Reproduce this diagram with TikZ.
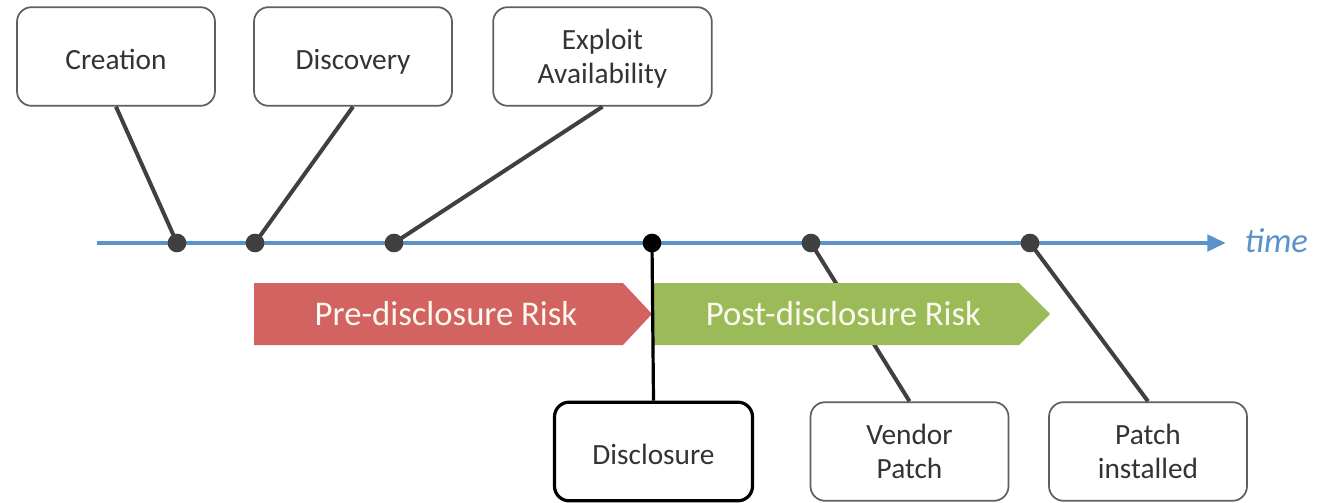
\documentclass[tikz,border=0pt]{standalone}
\usepackage{fontspec}
\setmainfont{Carlito}
\usetikzlibrary{arrows.meta}
\definecolor{timeblue}{RGB}{91,146,201}
\definecolor{prered}{RGB}{210,99,96}
\definecolor{postgreen}{RGB}{155,187,89}
\definecolor{stemgray}{RGB}{64,64,64}
\definecolor{boxgray}{RGB}{95,95,95}
\definecolor{labelwhite}{RGB}{252,250,238}
\tikzset{
    eventbox/.style={draw=boxgray, line width=1.3pt, rounded corners=11pt, fill=white,
        minimum width=148.5pt, minimum height=74pt, align=center, text=black!80,
        font=\fontsize{22}{25}\selectfont},
    oneline/.style={text height=22pt, text depth=1.8pt},
    twoline/.style={text height=42pt, text depth=1.8pt},
    keybox/.style={eventbox, draw=black, line width=2.4pt},
    stem/.style={draw=stemgray, line width=3pt},
    dot/.style={circle, fill=stemgray, inner sep=0pt, minimum size=14pt},
    risklabel/.style={text=labelwhite, font=\fontsize{26}{30}\selectfont}
}
\begin{document}
\begin{tikzpicture}[x=0.75pt, y=-0.75pt]
    \useasboundingbox (0,0) rectangle (1318,503);
    \node [eventbox, oneline] (creation) at (116,56.5) {Creation};
    \node [eventbox, oneline] (discovery) at (353,56.5) {Discovery};
    \node [eventbox, twoline, minimum width=164pt] (exploit) at (602.5,56.5) {Exploit\\Availability};
    \node [keybox, oneline] (disclosure) at (653.5,451.5) {Disclosure};
    \node [eventbox, twoline] (vendor) at (909.5,451.5) {Vendor\\Patch};
    \node [eventbox, twoline] (installed) at (1148,451.5) {Patch\\installed};
    \coordinate (tstart) at (97,243);
    \coordinate (tend) at (1226,243);
    \draw [timeblue, line width=3.5pt, -{Triangle[length=14pt, width=12pt]}] (tstart) -- (tend);
    \node [right, text=timeblue, font=\fontsize{26}{30}\selectfont\itshape] (time) at (1240,241) {time};
    \coordinate (tcreation) at (177,243);
    \coordinate (tdiscovery) at (255,243);
    \coordinate (texploit) at (394,243);
    \coordinate (tdisclosure) at (652,243);
    \coordinate (tvendor) at (811,243);
    \coordinate (tinstalled) at (1030,243);
    \draw [stem] (creation.south) -- (tcreation);
    \draw [stem] (discovery.south) -- (tdiscovery);
    \draw [stem] (exploit.south) -- (texploit);
    \draw [stem] (vendor.north) -- (tvendor);
    \draw [stem] (installed.north) -- (tinstalled);
    \fill [prered] (254,283) -- (623,283) -- (652,314) -- (623,345) -- (254,345) -- cycle;
    \fill [postgreen] (654,283) -- (1019,283) -- (1050,314) -- (1019,345) -- (654,345) -- cycle;
    \node [risklabel] (pre) at (446,314) {Pre-disclosure Risk};
    \node [risklabel] (post) at (843.5,314) {Post-disclosure Risk};
    \draw [black, line width=2.4pt] (tdisclosure) -- (disclosure.north);
    \node [dot] at (tcreation) {};
    \node [dot] at (tdiscovery) {};
    \node [dot] at (texploit) {};
    \node [dot, fill=black] at (tdisclosure) {};
    \node [dot] at (tvendor) {};
    \node [dot] at (tinstalled) {};
\end{tikzpicture}
\end{document}
